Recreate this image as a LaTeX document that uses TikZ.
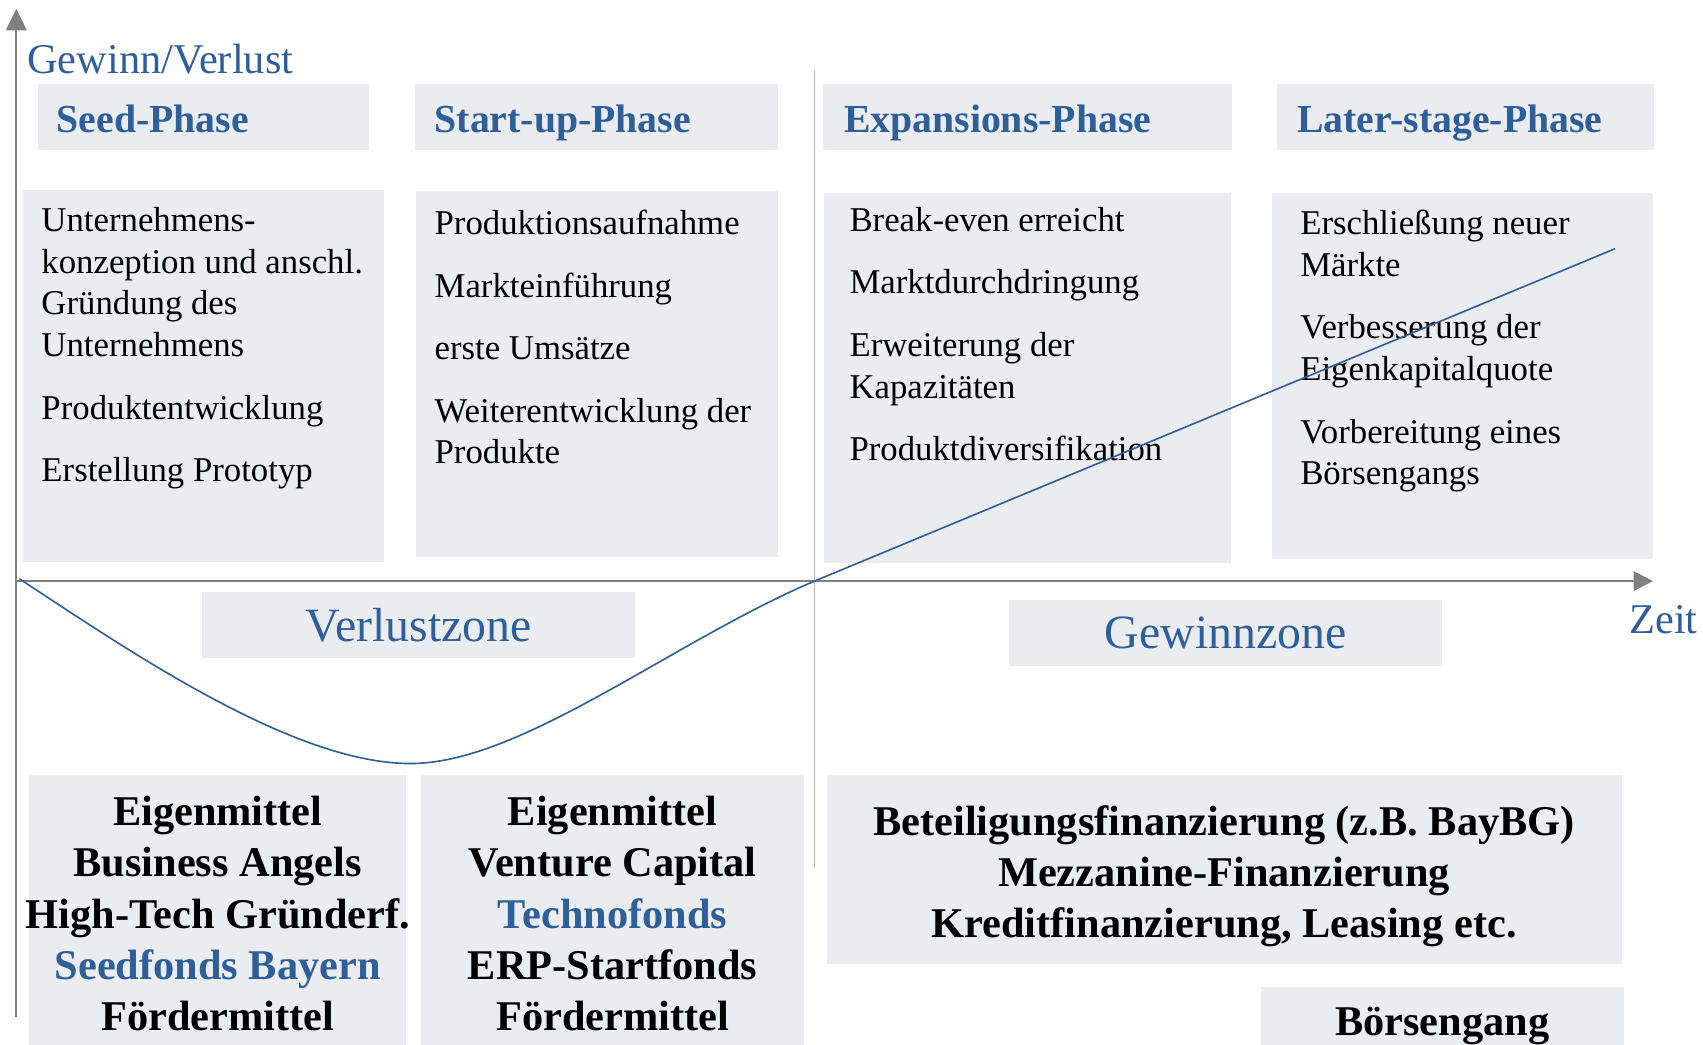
\documentclass[tikz,border=0pt]{standalone}
\usepackage{fontspec}
\setmainfont{Liberation Serif}
\usetikzlibrary{arrows.meta}
\definecolor{zoneblue}{RGB}{46,95,152}
\definecolor{boxgray}{RGB}{235,236,240}
\definecolor{axisgray}{RGB}{128,128,128}
\definecolor{sepgray}{RGB}{175,175,175}
\tikzset{
	greybox/.style={fill=boxgray, draw=none},
	phasetitle/.style={anchor=base west, inner sep=0pt, text=zoneblue, font=\fontsize{36.6}{44}\selectfont\bfseries},
	desc/.style={anchor=base west, inner sep=0pt, text width=330pt, align=flush left, font=\fontsize{32}{38.4}\selectfont},
	fin/.style={anchor=base, inner sep=0pt, text width=420pt, align=flush center, font=\fontsize{39}{47.3}\selectfont\bfseries},
	zone/.style={fill=boxgray, text=zoneblue, minimum width=399pt, minimum height=61pt, inner sep=0pt, font=\fontsize{44}{52}\selectfont},
	axislabel/.style={anchor=base west, text=zoneblue, inner sep=0pt, font=\fontsize{39}{46}\selectfont},
	axis/.style={draw=axisgray, line width=2pt},
}

\begin{document}
\begin{tikzpicture}[x=1pt, y=-1pt]
	\useasboundingbox (0,0) rectangle (1568,962);
	
	% header and description boxes
	\path[greybox] (35,77) rectangle (340,138);
	\path[greybox] (382,77) rectangle (716,138);
	\path[greybox] (758,77) rectangle (1134,138);
	\path[greybox] (1176,77) rectangle (1523,138);
	\path[greybox] (21,175) rectangle (354,517);
	\path[greybox] (383,176) rectangle (716,513);
	\path[greybox] (759,178) rectangle (1133,518);
	\path[greybox] (1171,178) rectangle (1522,515);
	
	% financing boxes
	\path[greybox] (27,714) rectangle (374,962);
	\path[greybox] (388,714) rectangle (740,962);
	\path[greybox] (761,714) rectangle (1493,888);
	\path[greybox] (1161,909) rectangle (1495,962);
	
	\node[phasetitle] (seed) at (52,122) {Seed-Phase};
	\node[phasetitle] (startup) at (400,122) {Start-up-Phase};
	\node[phasetitle] (expansion) at (777,122) {Expansions-Phase};
	\node[phasetitle] (later) at (1194,122) {Later-stage-Phase};
	
	\node[desc] (seeddesc) at (38,213) {Unternehmens-\\konzeption und anschl.\\Gründung des\\Unternehmens\\[19.2pt]Produktentwicklung\\[19.2pt]Erstellung Prototyp};
	\node[desc] (startupdesc) at (400,216) {Produktionsaufnahme\\[19.2pt]Markteinführung\\[19.2pt]erste Umsätze\\[19.2pt]Weiterentwicklung der\\Produkte};
	\node[desc] (expansiondesc) at (782,213) {Break-even erreicht\\[19.2pt]Marktdurchdringung\\[19.2pt]Erweiterung der\\Kapazitäten\\[19.2pt]Produktdiversifikation};
	\node[desc] (laterdesc) at (1197,216) {Erschließung neuer\\Märkte\\[19.2pt]Verbesserung der\\Eigenkapitalquote\\[19.2pt]Vorbereitung eines\\Börsengangs};
	
	\node[zone] (verlust) at (385.5,575.5) {Verlustzone};
	\node[zone] (gewinn) at (1128.5,583) {Gewinnzone};
	
	\node[fin] (seedfin) at (200.5,760) {Eigenmittel\\Business Angels\\High-Tech Gründerf.\\\textcolor{zoneblue}{Seedfonds Bayern}\\Fördermittel};
	\node[fin] (startupfin) at (564,760) {Eigenmittel\\Venture Capital\\\textcolor{zoneblue}{Technofonds}\\ERP-Startfonds\\Fördermittel};
	\node[fin, text width=720pt] (laterfin) at (1127,769) {Beteiligungsfinanzierung (z.B. BayBG)\\Mezzanine-Finanzierung\\Kreditfinanzierung, Leasing etc.};
	\node[fin] (ipo) at (1328,953) {Börsengang};
	
	% axes
	\coordinate (origin) at (15,535);
	\coordinate (ybottom) at (15,936);
	\coordinate (ytip) at (15,8);
	\coordinate (xtip) at (1522,535);
	\draw[axis, -{Triangle[width=19pt,length=20pt]}] (ybottom) -- (ytip);
	\draw[axis, -{Triangle[width=18pt,length=18pt]}] (origin) -- (xtip);
	\node[axislabel] (ylabel) at (25,68) {Gewinn/Verlust};
	\node[axislabel] (xlabel) at (1500,583) {Zeit};
	
	% break-even line
	\coordinate (septop) at (750,65);
	\coordinate (sepbottom) at (750,798);
	\draw[sepgray, line width=1.5pt] (septop) -- (sepbottom);
	
	% profit curve
	\coordinate (start) at (18,533);
	\coordinate (low) at (378,703);
	\coordinate (breakeven) at (750,535);
	\coordinate (lineend) at (1487,229);
	\draw[zoneblue, line width=1.5pt] (start) .. controls (120,600) and (270,703) .. (low) .. controls (480,703) and (620,590) .. (breakeven) -- (lineend);
\end{tikzpicture}
\end{document}
